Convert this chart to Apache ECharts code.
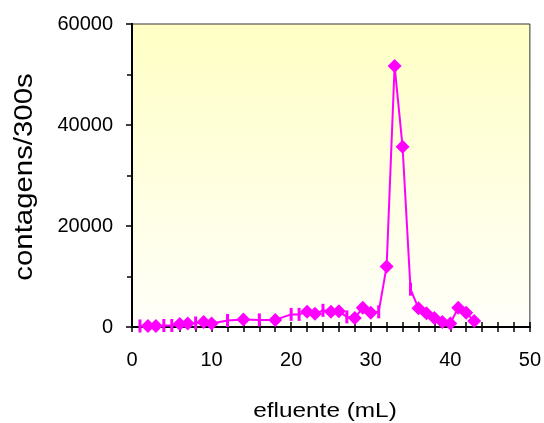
<!DOCTYPE html>
<html>
<head>
<meta charset="utf-8">
<script src="https://cdn.jsdelivr.net/npm/echarts@6/dist/echarts.min.js"></script>
<style>
  html, body { margin: 0; padding: 0; background: #fff; }
  #chart { width: 544px; height: 423px; }
</style>
</head>
<body>
<div id="chart"></div>
<script>
// efluente (mL) x contagens/300s
const volumes = [1, 2, 3, 4, 5, 6, 7, 8, 9, 10, 12, 14, 16, 18, 20, 21, 22, 23, 24, 25, 26, 27, 28, 29, 30, 31, 32, 33, 34, 35, 36, 37, 38, 39, 40, 41, 42, 43];
const counts = [200, 200, 200, 300, 300, 600, 700, 800, 1000, 700, 1300, 1500, 1400, 1400, 2500, 2500, 3000, 2600, 3300, 3000, 3100, 2000, 1800, 3800, 2800, 3000, 12000, 51700, 35700, 7500, 3700, 2700, 1800, 1000, 700, 3800, 2800, 1200];
// pontos marcados com traço vertical em vez de losango
const dashPoints = [1, 4, 5, 8, 12, 16, 20, 21, 24, 27, 31, 35];

const pink = '#FF00FF';
const font = 'Liberation Sans, Arial, sans-serif';

const seriesData = volumes.map((v, i) => {
  if (dashPoints.indexOf(v) >= 0) {
    return { value: [v, counts[i]], symbol: 'rect', symbolSize: [3, 13] };
  }
  return { value: [v, counts[i]] };
});

const chart = echarts.init(document.getElementById('chart'));

const tickStyle = { color: '#000', width: 1.5 };
const xBase = {
  type: 'value', min: 0, max: 50, interval: 10,
  axisLine: { onZero: false, lineStyle: { color: '#000', width: 2 } },
  splitLine: { show: false },
  minorTick: { show: true, splitNumber: 5, length: 5, lineStyle: tickStyle },
  axisTick: { length: 5, lineStyle: tickStyle }
};
const yBase = {
  type: 'value', min: 0, max: 60000, interval: 20000,
  axisLine: { onZero: false, lineStyle: { color: '#000', width: 2 } },
  splitLine: { show: false },
  minorTick: { show: true, splitNumber: 2, length: 5, lineStyle: tickStyle },
  axisTick: { length: 6, lineStyle: tickStyle }
};

chart.setOption({
  animation: false,
  backgroundColor: '#fff',
  grid: {
    left: 132, top: 24, right: 14, bottom: 96,
    show: true,
    borderColor: '#333', borderWidth: 1,
    backgroundColor: new echarts.graphic.LinearGradient(0, 0, 0, 1, [
      { offset: 0, color: '#FFFFC4' },
      { offset: 1, color: '#FFFFFA' }
    ])
  },
  // titulos dos eixos (esticados como no original)
  graphic: [
    {
      type: 'text', x: 325, y: 411, scaleX: 1.16,
      style: { text: 'efluente (mL)', font: '21px ' + font, fill: '#000', align: 'center', verticalAlign: 'middle' }
    },
    {
      type: 'text', x: 25, y: 177, rotation: Math.PI / 2, scaleX: 1.13,
      style: { text: 'contagens/300s', font: '26px ' + font, fill: '#000', align: 'center', verticalAlign: 'middle' }
    }
  ],
  xAxis: [
    Object.assign({}, xBase, {
      axisLabel: { fontFamily: font, fontSize: 20, color: '#000', margin: 23 }
    }),
    Object.assign({}, xBase, {
      position: 'bottom',
      axisTick: { inside: true, length: 5, lineStyle: tickStyle },
      minorTick: { show: true, splitNumber: 5, length: 5, lineStyle: tickStyle },
      axisLabel: { show: false }
    })
  ],
  yAxis: [
    Object.assign({}, yBase, {
      axisLabel: { fontFamily: font, fontSize: 20, color: '#000', margin: 19, formatter: v => String(v) }
    }),
    Object.assign({}, yBase, {
      position: 'left',
      axisTick: { show: false },
      minorTick: { show: true, splitNumber: 2, length: 4, lineStyle: tickStyle },
      axisLabel: { show: false }
    })
  ],
  series: [{
    type: 'line',
    data: seriesData,
    symbol: 'diamond',
    symbolSize: 14,
    itemStyle: { color: pink },
    lineStyle: { color: pink, width: 2 }
  }]
});
</script>
</body>
</html>
